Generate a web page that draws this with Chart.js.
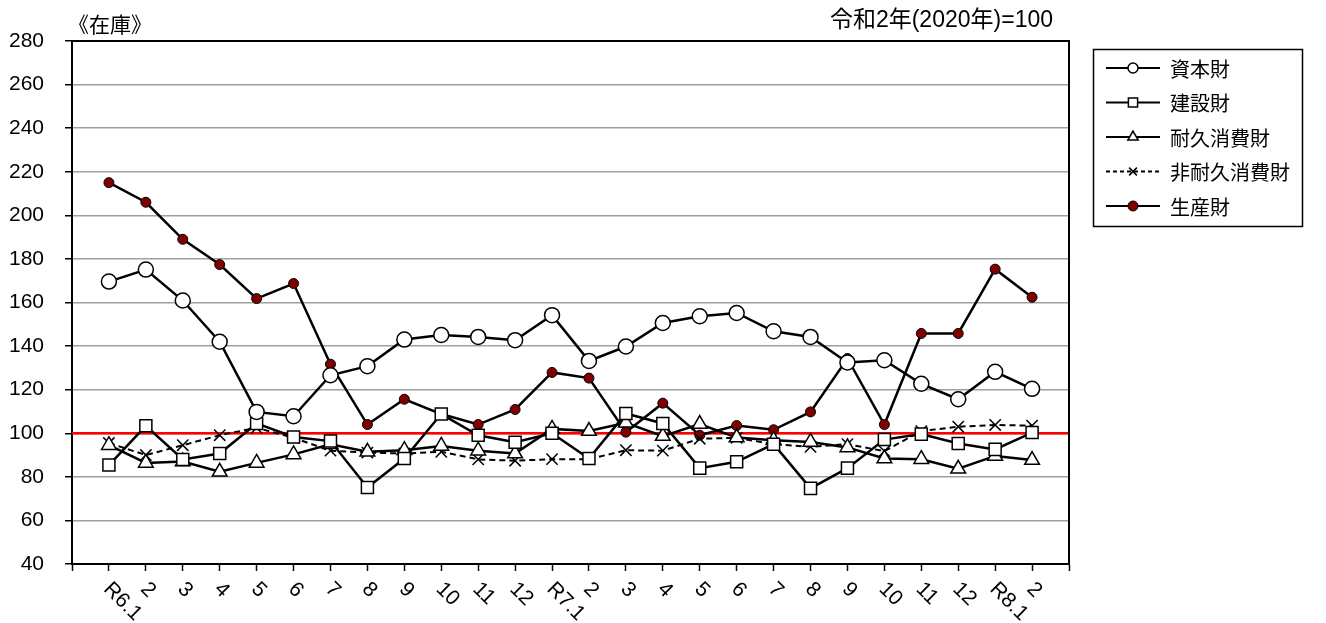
<!DOCTYPE html>
<html lang="ja">
<head>
<meta charset="utf-8">
<title>在庫</title>
<script src="https://cdn.jsdelivr.net/npm/chart.js@4.4.1/dist/chart.umd.min.js"></script>
<style>
  html, body { margin: 0; padding: 0; background: #fff; }
  #wrap { width: 1326px; height: 623px; }
</style>
</head>
<body>
<div id="wrap"><canvas id="stockChart" width="1326" height="623"></canvas></div>
<script>
// months on the x axis
const months = ['R6.1', '2', '3', '4', '5', '6', '7', '8', '9', '10', '11', '12',
    'R7.1', '2', '3', '4', '5', '6', '7', '8', '9', '10', '11', '12', 'R8.1', '2'];

// series (令和2年=100)
const capitalGoods = [169.6, 175.1, 160.9, 142, 109.8, 107.8, 126.6, 130.8, 143, 145.1, 144.2, 142.7,
    154.2, 133.2, 139.8, 150.6, 153.7, 155.2, 146.8, 144.2, 132.5, 133.5, 122.7, 115.6, 128.2, 120.4];
const constructionGoods = [85.4, 103.4, 88, 90.7, 104.5, 98.3, 96.4, 75.1, 88.4, 108.8, 99.1, 95.9,
    100, 88.4, 109.1, 104.5, 84, 86.9, 95, 74.7, 84, 97.1, 99.6, 95.3, 92.6, 100.3];
const durableGoods = [94.5, 86.4, 87, 82.3, 86.4, 90.3, 94.9, 91.5, 92.2, 94.2, 92, 90.7,
    102, 101, 104.8, 98.7, 104.2, 98, 96.8, 96, 93.5, 88.4, 88.1, 83.7, 89.6, 87.7];
const nonDurableGoods = [95.5, 90, 94.5, 99.1, 102.5, 97.9, 92, 91.1, 90.7, 91.5, 88, 87.4,
    88.1, 88.1, 92.2, 92, 97.5, 97.9, 95, 93.8, 95, 91.8, 101, 103, 103.8, 103.5];
const producerGoods = [215, 206, 189, 177.4, 161.8, 168.7, 131.7, 104, 115.6, 108.8, 104, 110.9,
    127.9, 125.3, 100.5, 113.8, 99.1, 103.5, 101.6, 109.8, 134.3, 104, 145.8, 145.8, 175.3, 162.4];

// y axis
const yTicks = [40, 60, 80, 100, 120, 140, 160, 180, 200, 220, 240, 260, 280];
const baseValue = 100;

const titleText = '《在庫》';
const baseText = '令和2年(2020年)=100';

const numFont = "'Liberation Sans', Arial, sans-serif";
const jpFont = "'Noto Sans CJK JP', sans-serif";

function toPoints(arr) {
    return arr.map((v, i) => ({ x: i, y: v }));
}

const datasets = [
    {
        label: '資本財',
        data: toPoints(capitalGoods),
        borderColor: '#000', borderWidth: 2.5,
        pointStyle: 'circle', pointRadius: 7.5, pointBorderWidth: 1.5,
        pointBackgroundColor: '#fff', pointBorderColor: '#000',
        legendRadius: 5
    },
    {
        label: '建設財',
        data: toPoints(constructionGoods),
        borderColor: '#000', borderWidth: 2.5,
        pointStyle: 'rect', pointRadius: 8.5, pointBorderWidth: 1.5,
        pointBackgroundColor: '#fff', pointBorderColor: '#000',
        legendRadius: 6.5
    },
    {
        label: '耐久消費財',
        data: toPoints(durableGoods),
        borderColor: '#000', borderWidth: 2.5,
        pointStyle: 'triangle', pointRadius: 8.5, pointBorderWidth: 1.5,
        pointBackgroundColor: '#fff', pointBorderColor: '#000',
        legendRadius: 6
    },
    {
        label: '非耐久消費財',
        data: toPoints(nonDurableGoods),
        borderColor: '#000', borderWidth: 2, borderDash: [6, 4],
        pointStyle: 'crossRot', pointRadius: 8, pointBorderWidth: 1.5,
        pointBackgroundColor: '#fff', pointBorderColor: '#000',
        legendRadius: 5.5
    },
    {
        label: '生産財',
        data: toPoints(producerGoods),
        borderColor: '#000', borderWidth: 2.5,
        pointStyle: 'circle', pointRadius: 5, pointBorderWidth: 1,
        pointBackgroundColor: '#800000', pointBorderColor: '#000',
        legendRadius: 5
    }
];

// red base line, top/right frame
const framePlugin = {
    id: 'frame',
    beforeDatasetsDraw(chart) {
        const { ctx, chartArea: a, scales } = chart;
        const y = scales.y.getPixelForValue(baseValue);
        ctx.save();
        ctx.strokeStyle = '#ff0000';
        ctx.lineWidth = 2.5;
        ctx.beginPath();
        ctx.moveTo(a.left, y);
        ctx.lineTo(a.right, y);
        ctx.stroke();

        ctx.strokeStyle = '#000';
        ctx.lineWidth = 2;
        ctx.beginPath();
        ctx.moveTo(a.left, a.top);
        ctx.lineTo(a.right, a.top);
        ctx.lineTo(a.right, a.bottom);
        ctx.stroke();
        ctx.restore();
    }
};

// rotated month labels, titles and the legend box
const labelPlugin = {
    id: 'labels',
    afterDraw(chart) {
        const { ctx, chartArea: a, scales } = chart;
        ctx.save();

        // x labels, turned 45deg clockwise
        ctx.fillStyle = '#000';
        ctx.font = '21px ' + numFont;
        ctx.textAlign = 'left';
        ctx.textBaseline = 'middle';
        months.forEach((m, i) => {
            const x = scales.x.getPixelForValue(i);
            ctx.save();
            ctx.translate(x - 2, a.bottom + 22);
            ctx.rotate(Math.PI / 4);
            ctx.fillText(m, 0, 0);
            ctx.restore();
        });

        // titles
        ctx.font = '21px ' + jpFont;
        ctx.textBaseline = 'middle';
        ctx.textAlign = 'left';
        ctx.fillText(titleText, 68, 24);
        ctx.font = '23px ' + numFont + ", 'Noto Sans CJK JP'";
        ctx.textAlign = 'right';
        ctx.fillText(baseText, 1053, 21);

        // legend
        const box = { x: 1093.5, y: 49.5, w: 209, h: 177 };
        ctx.strokeStyle = '#000';
        ctx.lineWidth = 1.5;
        ctx.strokeRect(box.x, box.y, box.w, box.h);
        const rowY0 = 68, rowGap = 34.5;
        chart.data.datasets.forEach((ds, i) => {
            const y = rowY0 + i * rowGap;
            ctx.strokeStyle = '#000';
            ctx.lineWidth = 2;
            ctx.setLineDash(ds.borderDash ? [4, 3] : []);
            ctx.beginPath();
            ctx.moveTo(1106, y);
            ctx.lineTo(1160, y);
            ctx.stroke();
            ctx.setLineDash([]);
            ctx.fillStyle = ds.pointBackgroundColor;
            ctx.strokeStyle = ds.pointBorderColor;
            ctx.lineWidth = ds.pointBorderWidth;
            Chart.helpers.drawPoint(ctx, {
                pointStyle: ds.pointStyle,
                radius: ds.legendRadius,
                rotation: 0,
                borderWidth: ds.pointBorderWidth
            }, 1133, y);
            ctx.fillStyle = '#000';
            ctx.font = '20px ' + jpFont;
            ctx.textAlign = 'left';
            ctx.textBaseline = 'middle';
            ctx.fillText(ds.label, 1170, y + 1);
        });
        ctx.restore();
    }
};

new Chart(document.getElementById('stockChart'), {
    type: 'line',
    data: { datasets: datasets },
    options: {
        responsive: false,
        animation: false,
        events: [],
        layout: {
            padding: { top: 41, right: 257, bottom: 0, left: 0 }
        },
        plugins: {
            legend: { display: false },
            tooltip: { enabled: false }
        },
        scales: {
            x: {
                type: 'linear',
                min: -1,
                max: months.length,
                afterBuildTicks: (scale) => {
                    const t = [];
                    for (let i = -1; i <= months.length; i++) t.push({ value: i });
                    scale.ticks = t;
                },
                afterFit: (scale) => { scale.height = 59; },
                ticks: { display: false },
                grid: {
                    drawOnChartArea: false,
                    drawTicks: true,
                    tickLength: 7,
                    tickColor: '#000',
                    tickWidth: 1.5
                },
                border: { display: true, color: '#000', width: 2 }
            },
            y: {
                min: yTicks[0],
                max: yTicks[yTicks.length - 1],
                afterBuildTicks: (scale) => {
                    scale.ticks = yTicks.map(v => ({ value: v }));
                },
                afterFit: (scale) => { scale.width = 72; },
                ticks: {
                    color: '#000',
                    padding: 21,
                    font: { family: numFont, size: 21 }
                },
                grid: {
                    color: '#a0a0a0',
                    lineWidth: 1.5,
                    tickLength: 7,
                    tickColor: '#000',
                    tickWidth: 1.5
                },
                border: { display: true, color: '#000', width: 2 }
            }
        }
    },
    plugins: [framePlugin, labelPlugin]
});
</script>
</body>
</html>
